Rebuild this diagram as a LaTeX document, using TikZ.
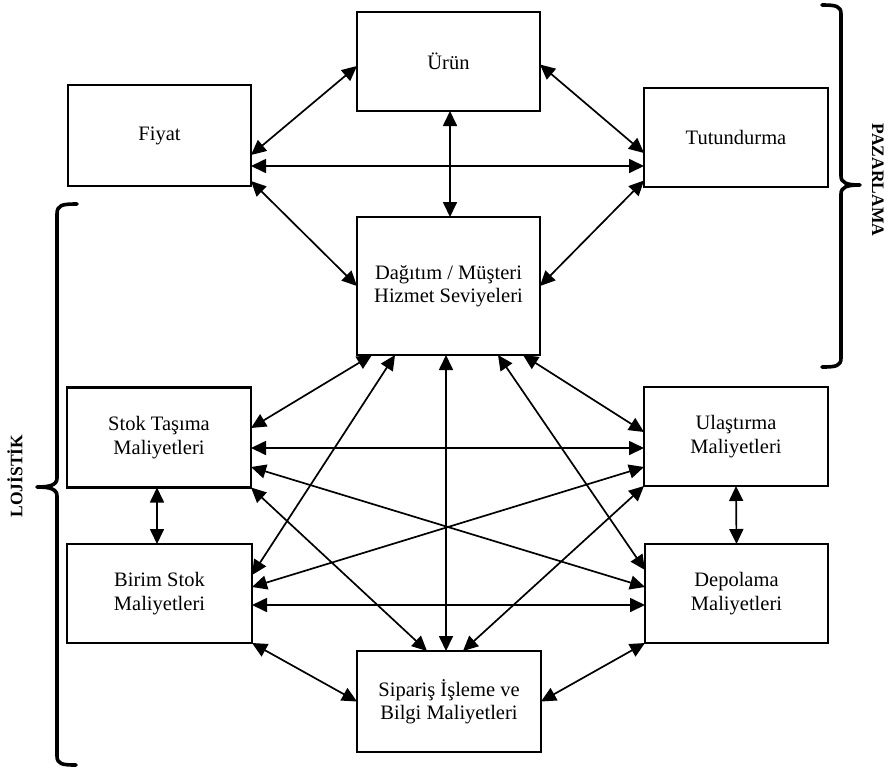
\documentclass[tikz,border=0pt]{standalone}
\usepackage{fontspec}
\setmainfont{Liberation Serif}
\usetikzlibrary{arrows.meta}
\begin{document}
\begin{tikzpicture}[x=1pt,y=-1pt,
  box/.style={draw,line width=2.4pt,minimum width=184pt,minimum height=100pt,
    inner sep=0pt,outer sep=0pt,align=center,
    font=\fontsize{20.5}{23.5}\selectfont},
  link/.style={line width=1.7pt,
    {Triangle[length=15pt,width=14pt]}-{Triangle[length=15pt,width=14pt]}},
  bracket/.style={line width=3.6pt,line cap=round,line join=round},
  side/.style={font=\fontsize{17.5}{20}\selectfont\bfseries,inner sep=0pt}]
\useasboundingbox (0,0) rectangle (888,769);

% marketing mix
\node[box,minimum width=183pt,minimum height=99pt] (urun) at (448.5,61.5) {Ürün};
\node[box,minimum width=183pt,minimum height=101pt] (fiyat) at (159.5,135.5) {Fiyat};
\node[box,minimum height=99pt] (tut) at (736,137.5) {Tutundurma};
\node[box,minimum width=183pt,minimum height=138pt] (dag) at (448.5,286) {Dağıtım / Müşteri\\Hizmet Seviyeleri};

% logistics costs
\node[box] (stok) at (159,437.5) {Stok Taşıma\\Maliyetleri};
\node[box,minimum height=99pt] (ulas) at (736,436.5) {Ulaştırma\\Maliyetleri};
\node[box,minimum width=185pt,minimum height=99pt] (birim) at (159.5,593.5) {Birim Stok\\Maliyetleri};
\node[box,minimum width=183pt,minimum height=99pt] (depo) at (736.5,593.5) {Depolama\\Maliyetleri};
\node[box,minimum height=101pt] (sip) at (449,701.5) {Sipariş İşleme ve\\Bilgi Maliyetleri};

% links among the marketing boxes
\draw[link] ([yshift=-19.5pt]fiyat.east) -- ([yshift=-4.5pt]urun.west);
\draw[link] ([yshift=-3pt]urun.east) -- ([yshift=-15.5pt]tut.west);
\draw[link] ([yshift=-30.5pt]fiyat.east) -- ([yshift=-28.5pt]tut.west);
\draw[link] ([xshift=1.5pt]urun.south) -- ([xshift=1.5pt]dag.north);
\draw[link] ([yshift=-45.5pt]fiyat.east) -- (dag.west);
\draw[link] ([yshift=-43pt]tut.west) -- (dag.east);

% links from distribution to the cost boxes
\draw[link] ([xshift=-76.5pt]dag.south) -- ([yshift=9.5pt]stok.east);
\draw[link] ([xshift=-53.5pt]dag.south) -- ([yshift=18.5pt]birim.east);
\draw[link] ([xshift=-2.5pt]dag.south) -- ([xshift=-3pt]sip.north);
\draw[link] ([xshift=49.5pt]dag.south) -- ([yshift=23.5pt]depo.west);
\draw[link] ([xshift=74.5pt]dag.south) -- ([yshift=4.5pt]ulas.west);

% links among the cost boxes
\draw[link] ([yshift=-10.5pt]stok.east) -- ([yshift=-11.5pt]ulas.west);
\draw[link] ([yshift=-29.5pt]stok.east) -- ([yshift=6.5pt]depo.west);
\draw[link] ([yshift=-30.5pt]ulas.west) -- ([yshift=6.5pt]birim.east);
\draw[link] (stok.south east) -- ([xshift=-22pt]sip.north);
\draw[link] (ulas.south west) -- ([xshift=14pt]sip.north);
\draw[link] ([yshift=-11.5pt]birim.east) -- ([yshift=-11.5pt]depo.west);
\draw[link] ([xshift=-2pt]stok.south) -- ([xshift=-2.5pt]birim.north);
\draw[link] (ulas.south) -- (depo.north);
\draw[link] (birim.south east) -- (sip.west);
\draw[link] (depo.south west) -- (sip.east);

% grouping braces
\draw[bracket] (77,204) .. controls (62,204) and (57,205) .. (57,214)
  -- (57,478) .. controls (57,485) and (50,487) .. (37,487)
  .. controls (50,487) and (57,489) .. (57,496)
  -- (57,756) .. controls (57,764) and (62,765) .. (76,765);
\draw[bracket] (822,5) .. controls (836,5) and (841,6) .. (841,14)
  -- (841,176) .. controls (841,183) and (847,185) .. (860,185)
  .. controls (847,185) and (841,187) .. (841,194)
  -- (841,358) .. controls (841,366) and (836,367) .. (822,367);

\node[side,rotate=90] (lojistik) at (15,476) {LOJİSTİK};
\node[side,rotate=-90] (pazarlama) at (878,180) {PAZARLAMA};
\end{tikzpicture}
\end{document}
